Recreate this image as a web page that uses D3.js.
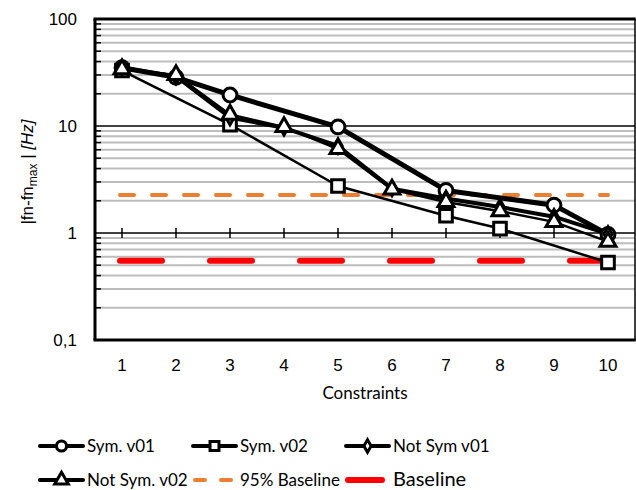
<!DOCTYPE html>
<html>
<head>
<meta charset="utf-8">
<script src="https://cdn.jsdelivr.net/npm/d3@7"></script>
<style>
  body { margin: 0; background: #fff; }
  svg { display: block; }
</style>
</head>
<body>
<svg id="chart" width="636" height="490"></svg>
<script>
/* ============================================================
   DATA
   ============================================================ */
var constraints = [1, 2, 3, 4, 5, 6, 7, 8, 9, 10];

var symV01    = [35, 28.5, 19.5, null, 9.8, null, 2.5, null, 1.82, 0.97];
var symV02    = [33, null, 10.3, null, 2.75, null, 1.45, 1.1, null, 0.53];
var notSymV01 = [35, 29, 12, 9.6, 6.5, 2.6, 2.1, 1.75, 1.42, 0.98];
var notSymV02 = [34, 30, 12.8, 9.8, 6.1, 2.55, 1.95, 1.6, 1.27, 0.83];

var baseline95 = 2.27;
var baseline   = 0.55;

var yTicks      = [0.1, 1, 10, 100];
var yTickLabels = ['0,1', '1', '10', '100'];

var seriesNames = ['Sym. v01', 'Sym. v02', 'Not Sym v01', 'Not Sym. v02'];
var baseNames   = ['95% Baseline', 'Baseline'];

/* ============================================================
   SETUP
   ============================================================ */
var svg = d3.select('#chart');
var L = 95, R = 635, T = 19, B = 340;

var x = d3.scaleBand().domain(constraints).range([L, R]);
var cx = function(c) { return x(c) + x.bandwidth() / 2; };
var y = d3.scaleLog().domain([0.1, 100]).range([B, T]);

// minor gridlines (2..9 of each decade)
var minor = [];
[0.1, 1, 10].forEach(function(d) {
    for (var k = 2; k <= 9; k++) minor.push(d * k);
});

svg.append('g').selectAll('line').data(minor).enter().append('line')
    .attr('x1', L).attr('x2', R)
    .attr('y1', function(d) { return y(d); })
    .attr('y2', function(d) { return y(d); })
    .attr('stroke', '#bdbdbd').attr('stroke-width', 2);

// minor ticks inside left axis
svg.append('g').selectAll('line').data(minor).enter().append('line')
    .attr('x1', L).attr('x2', L + 6)
    .attr('y1', function(d) { return y(d); })
    .attr('y2', function(d) { return y(d); })
    .attr('stroke', '#000').attr('stroke-width', 1.5);

// major gridlines
svg.append('g').selectAll('line').data([1, 10]).enter().append('line')
    .attr('x1', L).attr('x2', R)
    .attr('y1', function(d) { return y(d); })
    .attr('y2', function(d) { return y(d); })
    .attr('stroke', '#000').attr('stroke-width', 1.5);

// x-axis crosses at 1: tick marks there
svg.append('g').selectAll('line').data(constraints).enter().append('line')
    .attr('x1', cx).attr('x2', cx)
    .attr('y1', y(1) - 5).attr('y2', y(1) + 5)
    .attr('stroke', '#000').attr('stroke-width', 1.5);

// frame
svg.append('line').attr('x1', R).attr('x2', R).attr('y1', T).attr('y2', B)
    .attr('stroke', '#000').attr('stroke-width', 1.5);
svg.append('line').attr('x1', L - 1.5).attr('x2', R + 0.75).attr('y1', T).attr('y2', T)
    .attr('stroke', '#000').attr('stroke-width', 3);
svg.append('line').attr('x1', L - 1.5).attr('x2', R + 0.75).attr('y1', B).attr('y2', B)
    .attr('stroke', '#000').attr('stroke-width', 3);
svg.append('line').attr('x1', L).attr('x2', L).attr('y1', T).attr('y2', B)
    .attr('stroke', '#000').attr('stroke-width', 3);

// y tick labels
svg.append('g').selectAll('text').data(yTicks).enter().append('text')
    .attr('x', 77).attr('y', function(d) { return y(d) + 6; })
    .attr('text-anchor', 'end')
    .attr('font-family', 'Liberation Sans, Arial, sans-serif')
    .attr('font-size', '17px').attr('fill', '#000')
    .text(function(d, i) { return yTickLabels[i]; });

// x tick labels
svg.append('g').selectAll('text').data(constraints).enter().append('text')
    .attr('x', cx).attr('y', 371)
    .attr('text-anchor', 'middle')
    .attr('font-family', 'Liberation Sans, Arial, sans-serif')
    .attr('font-size', '17px').attr('fill', '#000')
    .text(function(d) { return d; });

// axis titles
svg.append('text')
    .attr('x', 365).attr('y', 399)
    .attr('text-anchor', 'middle')
    .attr('font-family', 'Lato, sans-serif')
    .attr('font-size', '17px').attr('fill', '#000')
    .text('Constraints');

var yt = svg.append('text')
    .attr('transform', 'translate(33,172) rotate(-90)')
    .attr('text-anchor', 'middle')
    .attr('font-family', 'Liberation Sans, Arial, sans-serif')
    .attr('font-size', '17px').attr('fill', '#000');
yt.append('tspan').text('|fn-fn');
yt.append('tspan').attr('font-size', '12px').attr('dy', 4).text('max');
yt.append('tspan').attr('dy', -4).text(' | ');
yt.append('tspan').attr('font-style', 'italic').text('[Hz]');

/* ============================================================
   BASELINES
   ============================================================ */
var xFirst = cx(constraints[0]) - 2, xLast = cx(constraints[constraints.length - 1]);
svg.append('line')
    .attr('x1', xFirst).attr('x2', xLast)
    .attr('y1', y(baseline95)).attr('y2', y(baseline95))
    .attr('stroke', '#ed7d31').attr('stroke-width', 4)
    .attr('stroke-linecap', 'round').attr('stroke-dasharray', '14 18');

svg.append('line')
    .attr('x1', xFirst).attr('x2', xLast)
    .attr('y1', y(baseline)).attr('y2', y(baseline))
    .attr('stroke', '#ff0000').attr('stroke-width', 6)
    .attr('stroke-linecap', 'round').attr('stroke-dasharray', '42 48');

/* ============================================================
   SERIES
   ============================================================ */
var series = [
    { name: seriesNames[0], values: symV01,    width: 5,   marker: 'circle'   },
    { name: seriesNames[1], values: symV02,    width: 2.5, marker: 'square'   },
    { name: seriesNames[2], values: notSymV01, width: 4,   marker: 'diamond'  },
    { name: seriesNames[3], values: notSymV02, width: 2.5, marker: 'triangle' }
];

var symbols = {
    circle:   d3.symbol().type(d3.symbolCircle).size(150),
    square:   d3.symbol().type(d3.symbolSquare).size(160),
    diamond:  d3.symbol().type(d3.symbolDiamond).size(60),
    triangle: d3.symbol().type(d3.symbolTriangle).size(110)
};

function pts(s) {
    return constraints.map(function(c, i) { return { c: c, v: s.values[i] }; })
        .filter(function(d) { return d.v != null; });
}

var line = d3.line()
    .x(function(d) { return cx(d.c); })
    .y(function(d) { return y(d.v); });

series.forEach(function(s) {
    svg.append('path')
        .datum(pts(s))
        .attr('fill', 'none')
        .attr('stroke', '#000')
        .attr('stroke-width', s.width)
        .attr('stroke-linejoin', 'round')
        .attr('d', line);
});

series.forEach(function(s) {
    svg.append('g').selectAll('path').data(pts(s)).enter().append('path')
        .attr('transform', function(d) { return 'translate(' + cx(d.c) + ',' + y(d.v) + ')'; })
        .attr('d', symbols[s.marker]())
        .attr('fill', '#fff')
        .attr('stroke', '#000')
        .attr('stroke-width', 3)
        .attr('stroke-linejoin', 'miter');
});

/* ============================================================
   LEGEND
   ============================================================ */
var legendItems = [
    { name: seriesNames[0], kind: 'series', s: series[0] },
    { name: seriesNames[1], kind: 'series', s: series[1] },
    { name: seriesNames[2], kind: 'series', s: series[2] },
    { name: seriesNames[3], kind: 'series', s: series[3] },
    { name: baseNames[0],   kind: 'b95' },
    { name: baseNames[1],   kind: 'base' }
];
var colX = [40, 193, 346], rowY = [446, 480];

legendItems.forEach(function(it, i) {
    var x0 = colX[i % 3], y0 = rowY[Math.floor(i / 3)];
    var g = svg.append('g');
    if (it.kind === 'series') {
        g.append('line').attr('x1', x0).attr('x2', x0 + 43).attr('y1', y0).attr('y2', y0)
            .attr('stroke', '#000').attr('stroke-width', 4).attr('stroke-linecap', 'round');
        g.append('path')
            .attr('transform', 'translate(' + (x0 + 21.5) + ',' + y0 + ')')
            .attr('d', d3.symbol().type({
                circle: d3.symbolCircle, square: d3.symbolSquare,
                diamond: d3.symbolDiamond, triangle: d3.symbolTriangle
            }[it.s.marker]).size(it.s.marker === 'diamond' ? 45 : 80)())
            .attr('fill', '#fff').attr('stroke', '#000').attr('stroke-width', 3);
    } else if (it.kind === 'b95') {
        g.append('line').attr('x1', x0 + 2).attr('x2', x0 + 38).attr('y1', y0).attr('y2', y0)
            .attr('stroke', '#ed7d31').attr('stroke-width', 4)
            .attr('stroke-linecap', 'round').attr('stroke-dasharray', '10 16');
    } else {
        g.append('line').attr('x1', x0 + 2).attr('x2', x0 + 36).attr('y1', y0).attr('y2', y0)
            .attr('stroke', '#ff0000').attr('stroke-width', 6).attr('stroke-linecap', 'round');
    }
    g.append('text')
        .attr('x', x0 + 47).attr('y', y0 + 6)
        .attr('font-family', 'Lato, sans-serif')
        .attr('font-size', it.kind === 'base' ? '20px' : '17px')
        .attr('fill', '#000')
        .text(it.name);
});
</script>
</body>
</html>
